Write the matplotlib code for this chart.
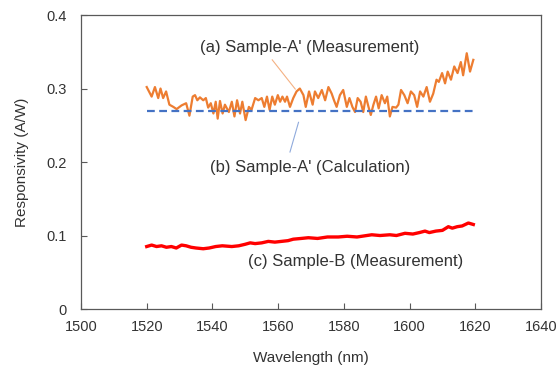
import numpy as np
import matplotlib
matplotlib.use("Agg")
import matplotlib.pyplot as plt

plt.rcParams["font.family"] = ["Liberation Sans", "DejaVu Sans"]

# ---------------------------------------------------------------------
# Data
# ---------------------------------------------------------------------
# (a) Sample-A' measurement
wl_a = [1520.0, 1521.5, 1522.5, 1523.5, 1524.2, 1525.0, 1525.9, 1526.9, 1528.1, 1529.1,
        1530.6, 1532.0, 1533.0, 1534.0, 1534.7, 1535.4, 1536.2, 1537.2, 1538.0, 1538.7,
        1539.5, 1540.3, 1541.0, 1541.6, 1542.3, 1543.1, 1543.8, 1545.0, 1545.9, 1546.7,
        1547.5, 1548.4, 1549.1, 1550.1, 1551.1, 1551.9, 1553.0, 1554.0, 1555.0, 1555.8,
        1556.6, 1557.4, 1558.2, 1559.0, 1559.9, 1560.6, 1561.3, 1562.1, 1562.7, 1563.6,
        1564.6, 1565.6, 1566.6, 1567.7, 1568.4, 1569.4, 1570.5, 1571.2, 1572.2, 1573.3,
        1574.3, 1575.3, 1576.3, 1577.0, 1577.8, 1578.8, 1579.8, 1580.9, 1581.7, 1582.6,
        1583.4, 1584.2, 1585.1, 1585.9, 1586.7, 1587.5, 1588.2, 1589.0, 1589.8, 1590.6,
        1591.5, 1592.5, 1593.2, 1594.0, 1594.8, 1595.9, 1596.6, 1597.4, 1598.4, 1599.4,
        1600.4, 1601.4, 1602.3, 1603.2, 1604.2, 1605.2, 1606.2, 1607.2, 1608.2, 1608.9,
        1609.9, 1610.8, 1611.6, 1612.6, 1613.6, 1614.6, 1615.6, 1616.3, 1617.4, 1618.4,
        1619.4]
resp_a = [0.302, 0.289, 0.302, 0.287, 0.300, 0.287, 0.296, 0.278, 0.275, 0.272,
          0.277, 0.280, 0.263, 0.289, 0.291, 0.284, 0.288, 0.284, 0.287, 0.274,
          0.280, 0.266, 0.282, 0.259, 0.283, 0.266, 0.278, 0.268, 0.282, 0.262,
          0.284, 0.266, 0.282, 0.257, 0.275, 0.271, 0.287, 0.284, 0.287, 0.275,
          0.289, 0.271, 0.289, 0.278, 0.291, 0.282, 0.289, 0.282, 0.289, 0.275,
          0.287, 0.296, 0.300, 0.291, 0.275, 0.296, 0.278, 0.296, 0.287, 0.298,
          0.284, 0.302, 0.293, 0.284, 0.275, 0.291, 0.298, 0.275, 0.287, 0.275,
          0.268, 0.287, 0.282, 0.268, 0.289, 0.275, 0.264, 0.278, 0.289, 0.273,
          0.291, 0.280, 0.289, 0.262, 0.275, 0.274, 0.278, 0.298, 0.291, 0.280,
          0.296, 0.291, 0.275, 0.296, 0.289, 0.302, 0.282, 0.293, 0.312, 0.309,
          0.321, 0.307, 0.323, 0.312, 0.330, 0.321, 0.336, 0.318, 0.348, 0.323,
          0.339]

# (b) Sample-A' calculation
wl_b = [1520, 1620]
resp_b = [0.270, 0.270]

# (c) Sample-B measurement
wl_c = [1520.0, 1521.5, 1523.0, 1524.5, 1526.0, 1527.5, 1529.0, 1530.6, 1532.0, 1533.5,
        1535.0, 1537.2, 1539.0, 1541.0, 1543.0, 1545.9, 1548.0, 1549.9, 1551.5, 1553.0,
        1555.0, 1557.0, 1559.0, 1561.0, 1563.0, 1564.6, 1567.0, 1569.2, 1572.0, 1575.0,
        1578.3, 1581.0, 1584.0, 1588.5, 1591.0, 1594.0, 1596.0, 1598.6, 1601.0, 1603.0,
        1604.7, 1606.0, 1608.0, 1610.0, 1611.8, 1613.0, 1614.5, 1616.0, 1617.9, 1619.4]
resp_c = [0.085, 0.087, 0.085, 0.086, 0.084, 0.085, 0.083, 0.087, 0.086, 0.084,
          0.083, 0.082, 0.083, 0.085, 0.086, 0.085, 0.086, 0.088, 0.090, 0.089,
          0.090, 0.092, 0.091, 0.092, 0.093, 0.095, 0.096, 0.097, 0.096, 0.098,
          0.098, 0.099, 0.098, 0.101, 0.100, 0.101, 0.100, 0.103, 0.102, 0.104,
          0.106, 0.104, 0.106, 0.107, 0.112, 0.110, 0.112, 0.113, 0.117, 0.115]

x_ticks = [1500, 1520, 1540, 1560, 1580, 1600, 1620, 1640]
y_ticks = [0, 0.1, 0.2, 0.3, 0.4]
y_ticklabels = ["0", "0.1", "0.2", "0.3", "0.4"]

text_color = "#333333"
spine_color = "#595959"

# ---------------------------------------------------------------------
# Plot
# ---------------------------------------------------------------------
fig = plt.figure(figsize=(5.59, 3.68), dpi=100)
ax = fig.add_axes([0.1449, 0.1603, 0.8229, 0.7989])

ax.plot(wl_a, resp_a, color="#ED7D31", linewidth=1.6, solid_joinstyle="round")
ax.plot(wl_b, resp_b, color="#4472C4", linewidth=1.6, linestyle=(0, (3.5, 2)))
ax.plot(wl_c, resp_c, color="#FF0000", linewidth=2.4, solid_joinstyle="round")

# leader lines for the labels
ax.plot([1558.2, 1565.2], [0.339, 0.2993], color="#F4B183", linewidth=0.8)
ax.plot([1566.2, 1563.6], [0.254, 0.2136], color="#8FAADC", linewidth=0.8)

ax.text(1569.7, 0.356, "(a) Sample-A' (Measurement)", ha="center", va="center",
        fontsize=12, color=text_color)
ax.text(1569.7, 0.192, "(b) Sample-A' (Calculation)", ha="center", va="center",
        fontsize=12, color=text_color)
ax.text(1583.7, 0.064, "(c) Sample-B (Measurement)", ha="center", va="center",
        fontsize=12, color=text_color)

ax.set_xlim(1500, 1640)
ax.set_ylim(0, 0.4)
ax.set_xticks(x_ticks)
ax.set_yticks(y_ticks)
ax.set_yticklabels(y_ticklabels)
ax.tick_params(direction="in", length=4, width=0.8, colors=spine_color,
               labelcolor=text_color, labelsize=10.5)
ax.tick_params(axis="x", pad=8)
ax.tick_params(axis="y", pad=10)
for s in ax.spines.values():
    s.set_color(spine_color)
    s.set_linewidth(0.9)

ax.set_xlabel("Wavelength (nm)", fontsize=11, color=text_color, labelpad=12)
ax.set_ylabel("Responsivity (A/W)", fontsize=11, color=text_color, labelpad=13)

fig.savefig("out.png", dpi=100)
